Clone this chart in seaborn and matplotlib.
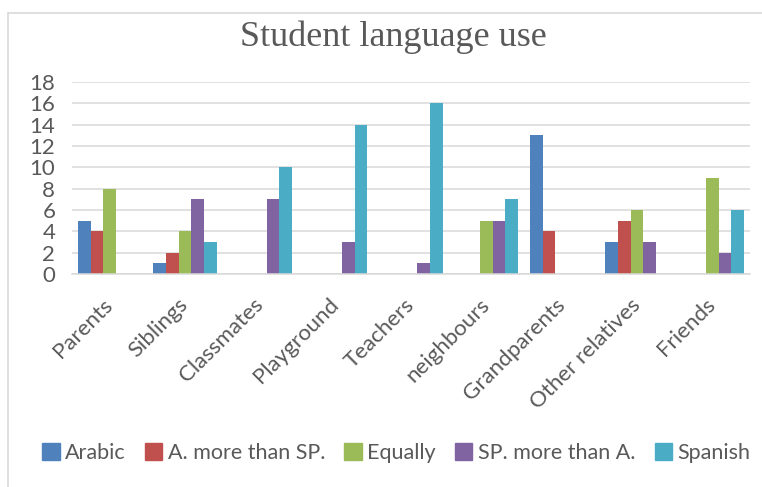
import matplotlib
matplotlib.use("Agg")
import matplotlib.pyplot as plt
from matplotlib.lines import Line2D
import seaborn as sns
import pandas as pd

categories = ["Parents", "Siblings", "Classmates", "Playground", "Teachers",
              "neighbours", "Grandparents", "Other relatives", "Friends"]
series = ["Arabic", "A. more than SP.", "Equally", "SP. more than A.", "Spanish"]
arabic = [5, 1, 0, 0, 0, 0, 13, 3, 0]
a_more = [4, 2, 0, 0, 0, 0, 4, 5, 0]
equally = [8, 4, 0, 0, 0, 5, 0, 6, 9]
sp_more = [0, 7, 7, 3, 1, 5, 0, 3, 2]
spanish = [0, 3, 10, 14, 16, 7, 0, 0, 6]
yticks = list(range(0, 19, 2))

colors = ["#4F81BD", "#C0504D", "#9BBB59", "#8064A2", "#4BACC6"]

rows = []
for name, vals in zip(series, [arabic, a_more, equally, sp_more, spanish]):
    for c, v in zip(categories, vals):
        rows.append({"place": c, "count": v, "type": name})
df = pd.DataFrame(rows)

sns.set_style("white")
plt.rcParams["font.family"] = ["Lato", "DejaVu Sans"]
txt = "#595959"
grid = "#D9D9D9"

fig = plt.figure(figsize=(7.62, 4.87), dpi=100)
ax = fig.add_axes([72/762, 1-274/487, (750-72)/762, (274-82)/487])

sns.barplot(data=df, x="place", y="count", hue="type", order=categories,
            hue_order=series, palette=colors, saturation=1, width=0.84,
            dodge=True, linewidth=0, ax=ax, errorbar=None)

ax.set_ylim(0, 18)
ax.set_yticks(yticks)
ax.set_xlim(-0.5, len(categories) - 0.5)
ax.yaxis.grid(True, color=grid, linewidth=1.1)
ax.set_axisbelow(True)
for s in ["top", "right", "left"]:
    ax.spines[s].set_visible(False)
ax.spines["bottom"].set_color(grid)
ax.spines["bottom"].set_linewidth(1.1)
ax.set_xlabel("")
ax.set_ylabel("")
ax.tick_params(axis="both", length=0, colors=txt)
ax.tick_params(axis="y", pad=12, labelsize=16)
ax.tick_params(axis="x", pad=20, labelsize=16)
for lab in ax.get_xticklabels():
    lab.set_rotation(45)
    lab.set_ha("right")
    lab.set_va("center")
    lab.set_rotation_mode("anchor")

ax.get_legend().remove()
handles = [plt.Rectangle((0, 0), 1, 1, color=c) for c in colors]
fig.legend(handles, series, loc="center", bbox_to_anchor=(0.52, 1-453/487),
           ncol=5, frameon=False, fontsize=15.5, handlelength=0.8,
           handleheight=0.8, handletextpad=0.25, columnspacing=0.9,
           labelcolor=txt)

fig.text(393/762, 1-37/487, "Student language use", ha="center", va="center",
         fontsize=26, color=txt, family=["Liberation Serif", "DejaVu Serif"])

fig.add_artist(Line2D([8/762, 8/762], [0, 1-13/487], transform=fig.transFigure,
                      color=grid, linewidth=1.2))
fig.add_artist(Line2D([8/762, 1], [1-13/487, 1-13/487], transform=fig.transFigure,
                      color=grid, linewidth=1.2))

fig.savefig("out.png", dpi=100)
